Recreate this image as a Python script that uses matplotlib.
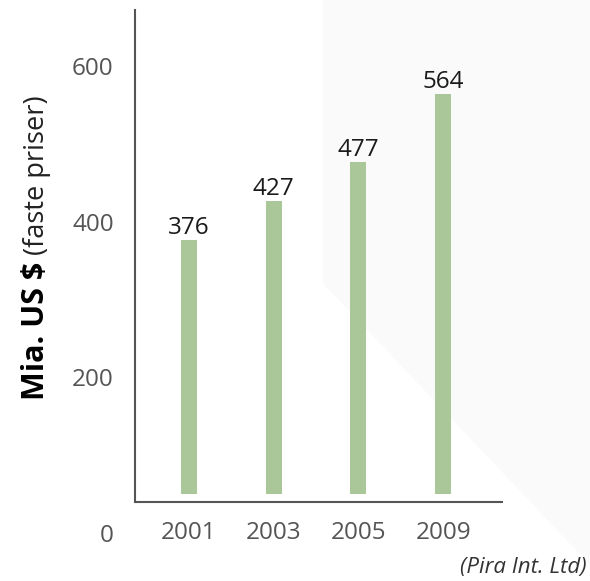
import matplotlib.pyplot as plt
from matplotlib.patches import Polygon

years = ['2001', '2003', '2005', '2009']
values = [376, 427, 477, 564]
yticks = [0, 200, 400, 600]
bar_base = 50
axis_base = 40

plt.rcParams['font.family'] = ['Open Sans', 'DejaVu Sans']

fig = plt.figure(figsize=(5.9, 5.81), dpi=100)

# faint grey shape in the background, right side
bg = Polygon([(0.547, 1.0), (1.0, 1.0), (1.0, 0.028), (0.547, 0.513)],
             closed=True, transform=fig.transFigure, facecolor='#fafafa',
             edgecolor='none', zorder=-1)
fig.patches.append(bg)

ax = fig.add_axes([0.228, 0.0826, 0.6246, 0.9002])
ax.patch.set_visible(False)

x = list(range(len(years)))
heights = [v - bar_base for v in values]
ax.bar(x, heights, bottom=bar_base, width=0.19, color='#aac799', zorder=2)

for xi, v in zip(x, values):
    ax.annotate(str(v), (xi, v), xytext=(0, 0), textcoords='offset points',
                ha='center', va='bottom', fontsize=17.5, color='#1a1a1a')

ax.set_xlim(-0.643, 3.708)
ax.set_ylim(0, 672)

ax.set_yticks(yticks)
ax.set_yticklabels([str(t) for t in yticks])
ax.set_xticks(x)
ax.set_xticklabels(years)
ax.tick_params(axis='y', length=0, pad=15, labelsize=17.5, labelcolor='#555555')
ax.tick_params(axis='x', length=0, pad=0, labelsize=17.5, labelcolor='#555555')
for lbl in ax.get_xticklabels():
    lbl.set_va('center')

for side in ['top', 'right', 'bottom']:
    ax.spines[side].set_visible(False)
ax.spines['left'].set_bounds(axis_base, 672)
ax.spines['left'].set_color('#555555')
ax.spines['left'].set_linewidth(1.5)
ax.axhline(axis_base, color='#555555', lw=1.5, zorder=3)

# y axis title: bold part + regular part right after it
t1 = fig.text(51 / 590, 1 - 400 / 581, 'Mia. US $', rotation=90, ha='right', va='bottom',
              fontsize=22, fontweight='bold', color='black')
fig.canvas.draw()
fig.text(51 / 590, 0, '(faste priser)', rotation=90, ha='right', va='bottom',
         fontsize=19.5, color='#222222')
ext = t1.get_window_extent()
fig.texts[-1].set_y((ext.y1 + 7) / fig.bbox.height)

fig.text(587 / 590, 1 - 567 / 581, '(Pira Int. Ltd)', ha='right', va='center',
         fontsize=16, style='italic', color='#333333')

fig.savefig('out.png', dpi=100)
